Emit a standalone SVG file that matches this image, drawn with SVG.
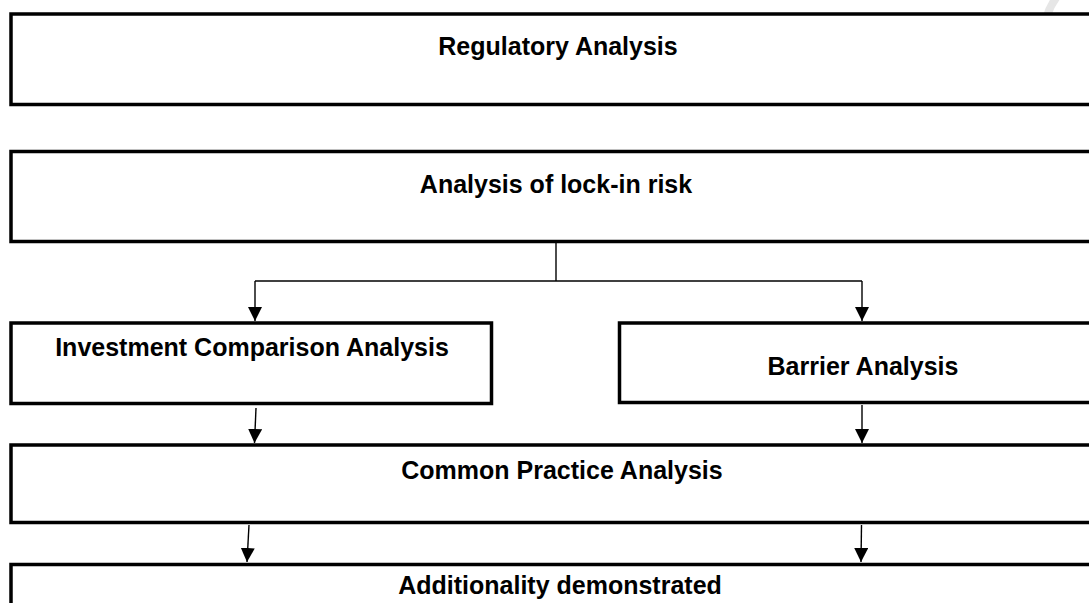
<svg xmlns="http://www.w3.org/2000/svg" width="1089" height="603" viewBox="0 0 1089 603">
  <style>
    .box { fill: #ffffff; stroke: #000000; stroke-width: 3.5; }
    .label { font-family: "Liberation Sans", Arial, sans-serif; font-weight: bold; font-size: 25px; fill: #000000; text-anchor: middle; }
    .link { fill: none; stroke: #000000; stroke-width: 1.4; }
    .mark { fill: none; stroke: #e6e6e6; stroke-width: 8; stroke-linecap: round; }
  </style>
  <defs>
    <marker id="arrow" viewBox="0 0 14 14" refX="14" refY="7" markerWidth="14" markerHeight="14" markerUnits="userSpaceOnUse" orient="auto">
      <path d="M0,0 L14,7 L0,14 Z" fill="#000000"/>
    </marker>
  </defs>

  <rect width="1089" height="603" fill="#ffffff"/>

  <!-- faint arc in the top-right corner -->
  <path class="mark" d="M1056,-2 Q1043,16 1045,38"/>

  <g id="node-regulatory">
    <rect class="box" x="11" y="14" width="1090" height="90.5"/>
    <text class="label" x="558" y="55">Regulatory Analysis</text>
  </g>

  <g id="node-lockin">
    <rect class="box" x="11" y="151.5" width="1090" height="90"/>
    <text class="label" x="556" y="193">Analysis of lock-in risk</text>
  </g>

  <g id="node-investment">
    <rect class="box" x="11" y="323" width="480.5" height="80.5"/>
    <text class="label" x="252" y="356">Investment Comparison Analysis</text>
  </g>

  <g id="node-barrier">
    <rect class="box" x="619.5" y="323" width="480" height="79.5"/>
    <text class="label" x="863" y="375">Barrier Analysis</text>
  </g>

  <g id="node-common">
    <rect class="box" x="11" y="445" width="1090" height="77.5"/>
    <text class="label" x="562" y="479">Common Practice Analysis</text>
  </g>

  <g id="node-additionality">
    <rect class="box" x="11" y="564.5" width="1090" height="60"/>
    <text class="label" x="560" y="594">Additionality demonstrated</text>
  </g>

  <g id="connectors">
    <path class="link" d="M556,243 L556,281"/>
    <path class="link" d="M255,281 L862,281"/>
    <path class="link" d="M255,281 L255,321" marker-end="url(#arrow)"/>
    <path class="link" d="M862,281 L862,321" marker-end="url(#arrow)"/>
    <path class="link" d="M256,408 L254.5,443" marker-end="url(#arrow)"/>
    <path class="link" d="M862,405 L862,443" marker-end="url(#arrow)"/>
    <path class="link" d="M249,525 L247,562" marker-end="url(#arrow)"/>
    <path class="link" d="M861.5,525 L861,562" marker-end="url(#arrow)"/>
  </g>
</svg>
